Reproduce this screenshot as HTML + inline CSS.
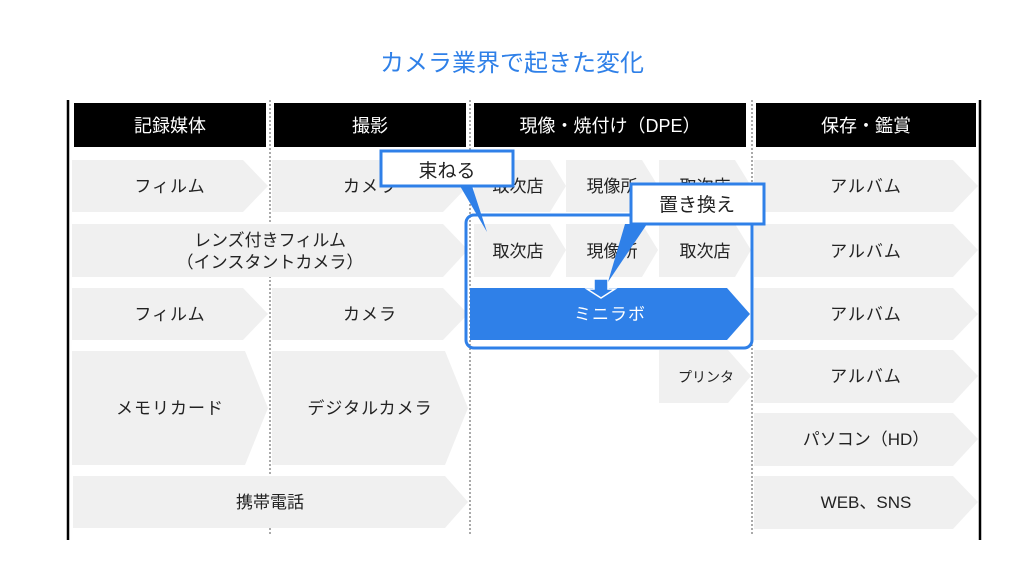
<!DOCTYPE html>
<html><head><meta charset="utf-8"><style>
html,body{margin:0;padding:0;background:#fff;}
svg{display:block;}
text{font-family:"Liberation Sans","Noto Sans CJK JP",sans-serif;}
</style></head><body>
<svg width="1024" height="576" viewBox="0 0 1024 576" xmlns="http://www.w3.org/2000/svg">
<text x="512" y="71" font-size="24" fill="#2f80e8" text-anchor="middle">カメラ業界で起きた変化</text>
<line x1="68" y1="100" x2="68" y2="540" stroke="#000" stroke-width="2.5"/>
<line x1="980" y1="100" x2="980" y2="540" stroke="#000" stroke-width="2.5"/>
<g stroke="#555" stroke-width="1" stroke-dasharray="2,2">
<line x1="270" y1="100" x2="270" y2="536"/>
<line x1="470" y1="100" x2="470" y2="536"/>
<line x1="752" y1="100" x2="752" y2="536"/>
</g>
<g fill="#000">
<rect x="74" y="103" width="192" height="44"/>
<rect x="274" y="103" width="192" height="44"/>
<rect x="474" y="103" width="272" height="44"/>
<rect x="756" y="103" width="220" height="44"/>
</g>
<g fill="#fff" font-size="18" text-anchor="middle">
<text x="170" y="132">記録媒体</text>
<text x="370" y="132">撮影</text>
<text x="610" y="132">現像・焼付け（DPE）</text>
<text x="866" y="132">保存・鑑賞</text>
</g>
<g fill="#f0f0f0">
<polygon points="72,160 243,160 268,186 243,212 72,212"/>
<polygon points="272,160 443,160 468,186 443,212 272,212"/>
<polygon points="72,224 443,224 468,250 443,277 72,277"/>
<polygon points="72,288 243,288 268,314 243,340 72,340"/>
<polygon points="272,288 443,288 468,314 443,340 272,340"/>
<polygon points="72,351 245,351 268,408 245,465 72,465"/>
<polygon points="272,351 445,351 468,408 445,465 272,465"/>
<polygon points="73,476 445,476 468,502 445,528 73,528"/>
<polygon points="474,160 550,160 566,186 550,212 474,212"/>
<polygon points="566,160 642,160 658,186 642,212 566,212"/>
<polygon points="659,160 735,160 751,186 735,212 659,212"/>
<polygon points="474,224 550,224 566,250 550,277 474,277"/>
<polygon points="566,224 642,224 658,250 642,277 566,277"/>
<polygon points="659,224 735,224 751,250 735,277 659,277"/>
<polygon points="659,350 728,350 751,376 728,403 659,403"/>
<polygon points="754,160 953,160 978,186 953,212 754,212"/>
<polygon points="754,224 953,224 978,250 953,277 754,277"/>
<polygon points="754,288 953,288 978,314 953,340 754,340"/>
<polygon points="754,350 953,350 978,376 953,403 754,403"/>
<polygon points="754,413 953,413 978,439 953,466 754,466"/>
<polygon points="754,476 953,476 978,502 953,529 754,529"/>
</g>
<polygon points="470,288 727,288 750,314 727,340 470,340" fill="#2f80e8"/>
<g fill="#222" font-size="17" text-anchor="middle">
<text x="170" y="192" letter-spacing="1">フィルム</text>
<text x="370" y="192" letter-spacing="1">カメラ</text>
<text x="270" y="246">レンズ付きフィルム</text>
<text x="270" y="268">（インスタントカメラ）</text>
<text x="170" y="320" letter-spacing="1">フィルム</text>
<text x="370" y="320" letter-spacing="1">カメラ</text>
<text x="170" y="414" letter-spacing="1">メモリカード</text>
<text x="370" y="414" letter-spacing="1">デジタルカメラ</text>
<text x="270" y="508">携帯電話</text>
<text x="518" y="192">取次店</text>
<text x="612" y="192">現像所</text>
<text x="705" y="192">取次店</text>
<text x="518" y="257">取次店</text>
<text x="612" y="257">現像所</text>
<text x="705" y="257">取次店</text>
<text x="706" y="382" font-size="14">プリンタ</text>
<text x="866" y="192" letter-spacing="1">アルバム</text>
<text x="866" y="257" letter-spacing="1">アルバム</text>
<text x="866" y="320" letter-spacing="1">アルバム</text>
<text x="866" y="382" letter-spacing="1">アルバム</text>
<text x="866" y="445">パソコン（HD）</text>
<text x="866" y="508">WEB、SNS</text>
<text x="610" y="320" fill="#fff" letter-spacing="1">ミニラボ</text>
</g>
<rect x="466" y="215" width="286" height="133" rx="8" fill="none" stroke="#2f80e8" stroke-width="3"/>
<polygon points="594,279 608,279 608,289 615,289 601,298 587,289 594,289" fill="#2f80e8" stroke="#fff" stroke-width="1.5"/>
<polygon points="460,186 472,186 487,232" fill="#2f80e8"/>
<rect x="381" y="151" width="132" height="35" fill="#fff" stroke="#2f80e8" stroke-width="3"/>
<text x="447" y="177" font-size="19" text-anchor="middle" fill="#222">束ねる</text>
<polygon points="625,224 647,224 608,282" fill="#2f80e8"/>
<rect x="631" y="184" width="133" height="40" fill="#fff" stroke="#2f80e8" stroke-width="3"/>
<text x="697" y="211" font-size="19" text-anchor="middle" fill="#222">置き換え</text>
</svg>
</body></html>
